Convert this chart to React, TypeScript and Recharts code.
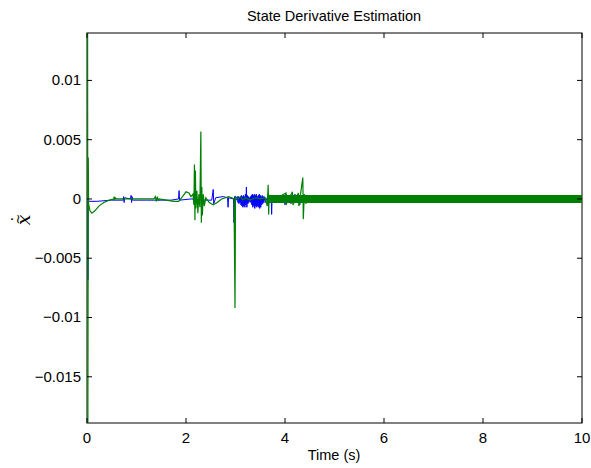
import React from "react";
import { ComposedChart, Line, XAxis, YAxis } from "recharts";

// blue estimate, [time s, value]
const blueTrace: [number, number][] = [
  [0.014, 0.0], [0.018, -0.0068], [0.022, -0.0002], [0.2, -0.0002], [0.5, -0.0001],
  [0.73, -0.0001], [0.74, 0.0002], [0.75, -0.0003], [0.76, 0.0001], [0.88, 0.0],
  [0.89, 0.0003], [0.9, -0.0003], [0.91, 0.0002], [0.92, -0.0001], [1.2, -0.0001],
  [1.7, -0.0001], [1.85, 0.0], [1.86, 0.0007], [1.87, -0.0001], [2.1, 0.0],
  [2.4, -0.0001], [2.52, -0.0001], [2.55, 0.0008], [2.56, -0.0004], [2.6, 0.0001],
  [2.75, 0.0002], [2.84, 0.0001], [2.85, -0.0007], [2.86, 0.0001], [2.96, 0.0],
  [2.97, -0.002], [2.98, 0.0002], [3.02, -0.0001], [3.04, 0.0002], [3.05, -0.0003],
  [3.06, 0.0002], [3.07, -0.0004], [3.08, 0.0001], [3.09, -0.0003], [3.1, 0.0002],
  [3.11, -0.0005], [3.12, 0.0003], [3.13, -0.0006], [3.14, 0.0002], [3.15, -0.0007],
  [3.16, 0.0003], [3.17, -0.0006], [3.18, 0.0002], [3.19, -0.0007], [3.2, 0.0004],
  [3.21, -0.0005], [3.22, 0.001], [3.23, -0.0007], [3.24, 0.0003], [3.25, -0.0004],
  [3.26, 0.0002], [3.27, -0.0003], [3.28, 0.0001], [3.29, -0.0002], [3.3, 0.0002],
  [3.31, -0.0003], [3.32, 0.0003], [3.33, -0.0005], [3.34, 0.0004], [3.35, -0.0007],
  [3.36, 0.0003], [3.37, -0.0006], [3.38, 0.0004], [3.39, -0.0008], [3.4, 0.0003],
  [3.41, -0.0006], [3.42, 0.0004], [3.43, -0.0007], [3.44, 0.0002], [3.45, -0.0006],
  [3.46, 0.0003], [3.47, -0.0007], [3.48, 0.0004], [3.49, -0.0008], [3.5, 0.0003],
  [3.51, -0.0007], [3.52, 0.0002], [3.53, -0.0005], [3.54, 0.0003], [3.55, -0.0004],
  [3.56, 0.0002], [3.57, -0.0003], [3.58, 0.0002], [3.6, -0.0003], [3.64, 0.0001],
  [3.7, -0.0002], [3.72, 0.0003], [3.73, -0.0013], [3.74, 0.0002], [3.85, -0.0002],
  [3.98, 0.0003], [4.0, -0.0005], [4.02, 0.0004], [4.12, -0.0004], [4.2, 0.0004],
  [4.3, -0.0005], [4.33, 0.0003], [4.4, -0.0002], [4.45, 0.0], [10, 0.0],
];

// green estimate, [time s, value]
const greenTrace: [number, number][] = [
  [0.012, 0.014], [0.018, -0.0189], [0.026, 0.0035], [0.032, -0.0004], [0.06, -0.001],
  [0.1, -0.0012], [0.16, -0.001], [0.24, -0.0006], [0.34, -0.0003], [0.45, -0.0001],
  [0.54, 0.0], [0.55, 0.0002], [0.56, -0.0001], [0.57, 0.0001], [0.6, 0.0],
  [0.9, 0.0], [1.35, 0.0], [1.38, 0.0002], [1.4, -0.0002], [1.42, 0.0002],
  [1.44, -0.0001], [1.46, 0.0], [1.6, -0.0001], [1.75, -0.0002], [1.85, -0.0002],
  [1.93, 0.0002], [2.0, 0.0006], [2.06, 0.0005], [2.1, 0.0002], [2.14, 0.0004],
  [2.16, -0.0005], [2.17, 0.0029], [2.18, -0.0018], [2.19, 0.0024], [2.2, -0.0008],
  [2.22, 0.0007], [2.24, -0.0012], [2.26, 0.0004], [2.28, -0.0007], [2.3, 0.0057],
  [2.31, -0.002], [2.32, 0.001], [2.33, -0.0014], [2.35, 0.0004], [2.37, -0.0006],
  [2.4, 0.0001], [2.47, -0.0003], [2.55, -0.0005], [2.63, -0.0003], [2.72, 0.0],
  [2.8, 0.0001], [2.86, 0.0002], [2.92, 0.0001], [2.97, 0.0], [2.99, -0.0092],
  [3.0, 0.0002], [3.05, 0.0], [3.1, 0.0002], [3.15, -0.0001], [3.2, 0.0001],
  [3.3, -0.0001], [3.4, 0.0001], [3.5, 0.0], [3.6, 0.0001], [3.64, -0.0006],
  [3.66, 0.0012], [3.67, -0.0013], [3.68, 0.0003], [3.8, 0.0], [4.02, 0.0005],
  [4.03, -0.0004], [4.15, 0.0006], [4.16, -0.0005], [4.27, 0.0005], [4.28, -0.0006],
  [4.36, 0.0018], [4.37, -0.0017], [4.39, 0.0004], [4.42, -0.0004], [4.45, 0.0],
];

// settled green oscillation band, drawn as a thick stroke
const greenBand: [number, number][] = [[3.65, 0], [10, 0]];

const xTicks = [0, 2, 4, 6, 8, 10];
const yTicks = [-0.015, -0.01, -0.005, 0, 0.005, 0.01];
const yDomain = [-0.0189, 0.014];

const toRows = (pts: [number, number][]) => pts.map(([t, v]) => ({ t, v }));

const FONT = "'Liberation Sans', Arial, Helvetica, sans-serif";
const fmt = (v: number) => String(v).replace("-", "\u2212");

const BottomTick = (p: any) => (
  <g>
    <line x1={p.x} x2={p.x} y1={p.y} y2={p.y - 5} stroke="#000" />
    <text x={p.x} y={p.y + 20} textAnchor="middle" fontSize={15} fontFamily={FONT} fill="#000">
      {p.payload.value}
    </text>
  </g>
);
const TopTick = (p: any) => <line x1={p.x} x2={p.x} y1={p.y} y2={p.y + 5} stroke="#000" />;
const LeftTick = (p: any) => (
  <g>
    <line x1={p.x} x2={p.x + 5} y1={p.y} y2={p.y} stroke="#000" />
    <text x={p.x - 6} y={p.y + 5} textAnchor="end" fontSize={15} fontFamily={FONT} fill="#000">
      {fmt(p.payload.value)}
    </text>
  </g>
);
const RightTick = (p: any) => <line x1={p.x} x2={p.x - 5} y1={p.y} y2={p.y} stroke="#000" />;

export default function App() {
  return (
    <div style={{ position: "absolute", left: 0, top: 0, width: 591, height: 468, background: "#fff" }}>
      {/* axes box, behind the traces like in the original */}
      <svg width={591} height={468} style={{ position: "absolute", left: 0, top: 0 }}>
        <rect x={87} y={33} width={495} height={390} fill="#fff" stroke="#000" strokeWidth={1} />
      </svg>
      <div style={{ position: "absolute", left: 0, top: 0 }}>
        <ComposedChart width={591} height={468} margin={{ top: 32, right: 8, bottom: 0, left: 0 }}>
          <XAxis
            xAxisId={0} type="number" dataKey="t" domain={[0, 10]} ticks={xTicks} interval={0}
            height={45} tickSize={0} tickMargin={0} tickLine={false} tick={BottomTick}
            axisLine={false} allowDataOverflow
          />
          <XAxis
            xAxisId="top" orientation="top" type="number" dataKey="t" domain={[0, 10]} ticks={xTicks}
            interval={0} height={1} tickSize={0} tickMargin={0} tickLine={false} tick={TopTick}
            axisLine={false} allowDataOverflow
          />
          <YAxis
            yAxisId={0} type="number" domain={yDomain} ticks={yTicks} interval={0} width={87}
            tickSize={0} tickMargin={0} tickLine={false} tick={LeftTick}
            axisLine={false} allowDataOverflow
          />
          <YAxis
            yAxisId="right" orientation="right" type="number" domain={yDomain} ticks={yTicks}
            interval={0} width={1} tickSize={0} tickMargin={0} tickLine={false} tick={RightTick}
            axisLine={false} allowDataOverflow
          />
          <Line data={toRows(blueTrace)} dataKey="v" type="linear" stroke="#0000ff" strokeWidth={1}
            dot={false} isAnimationActive={false} />
          <Line data={toRows(greenTrace)} dataKey="v" type="linear" stroke="#008000" strokeWidth={1.2}
            dot={false} isAnimationActive={false} />
          <Line data={toRows(greenBand)} dataKey="v" type="linear" stroke="#008000" strokeWidth={8}
            strokeLinecap="butt" dot={false} isAnimationActive={false} />
        </ComposedChart>
      </div>
      <svg width={591} height={468} style={{ position: "absolute", left: 0, top: 0, pointerEvents: "none" }}>
        <text x={334} y={21} textAnchor="middle" fontSize={14.5} fontFamily={FONT}>State Derivative Estimation</text>
        <text x={334} y={460} textAnchor="middle" fontSize={14.5} fontFamily={FONT}>Time (s)</text>
        <g transform="translate(30,220) rotate(-90)" fontFamily="'DejaVu Serif', serif">
          <text x={0} y={0} textAnchor="middle" fontSize={19} fontStyle="italic">x</text>
          <text x={1} y={-8} textAnchor="middle" fontSize={13}>~</text>
          <text x={1} y={-17} textAnchor="middle" fontSize={15}>.</text>
        </g>
      </svg>
    </div>
  );
}
